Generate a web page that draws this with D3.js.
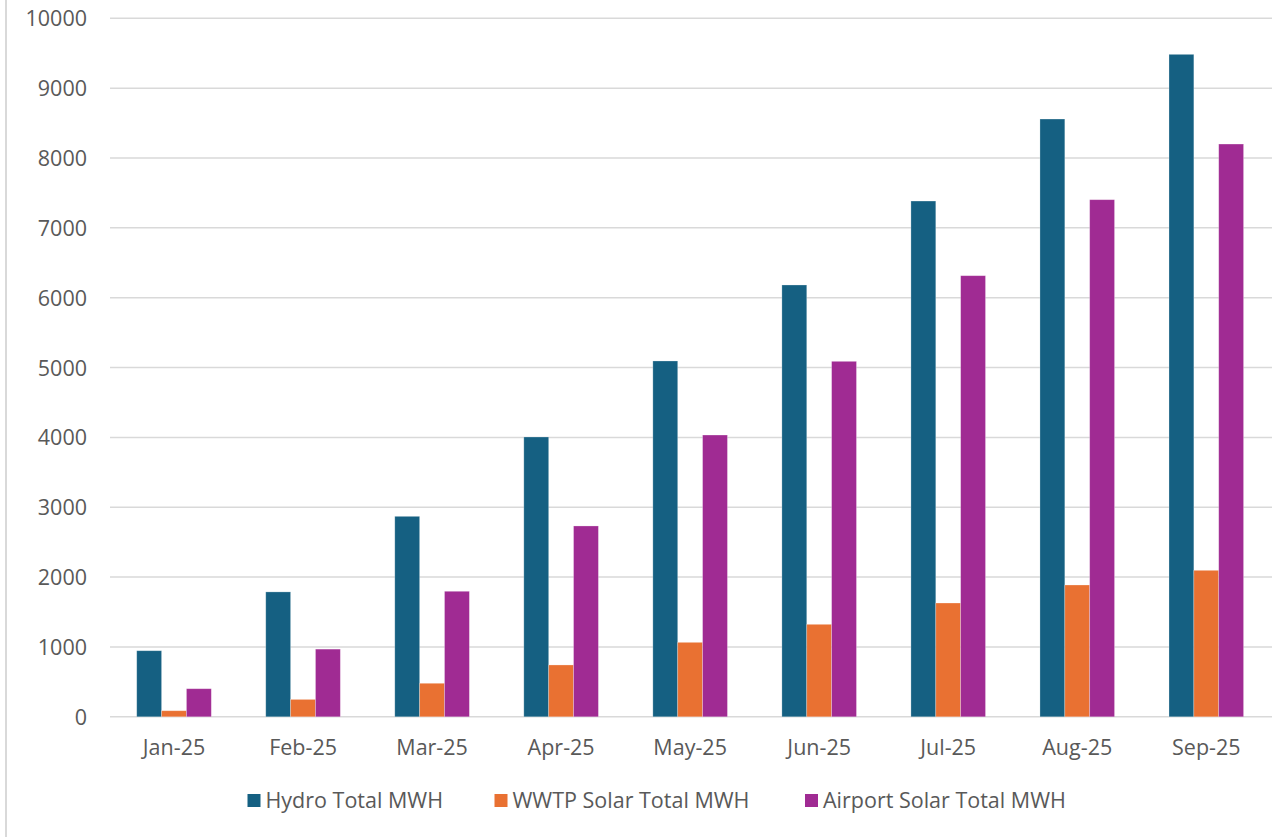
<!DOCTYPE html>
<html>
<head>
<meta charset="utf-8">
<script src="https://cdn.jsdelivr.net/npm/d3@7"></script>
<style>
  html, body { margin: 0; padding: 0; background: #fff; }
  svg { display: block; }
  text { font-family: "Open Sans", "Liberation Sans", sans-serif; fill: #595959; }
</style>
</head>
<body>
<svg id="chart" width="1272" height="837"></svg>
<script>
const months = ["Jan-25","Feb-25","Mar-25","Apr-25","May-25","Jun-25","Jul-25","Aug-25","Sep-25"];
const seriesNames = ["Hydro Total MWH","WWTP Solar Total MWH","Airport Solar Total MWH"];
const hydro   = [946, 1788, 2870, 4006, 5094, 6182, 7384, 8558, 9484];
const wwtp    = [87, 249, 480, 742, 1066, 1324, 1629, 1887, 2097];
const airport = [402, 969, 1797, 2732, 4034, 5089, 6315, 7403, 8200];
const yTicks  = [0,1000,2000,3000,4000,5000,6000,7000,8000,9000,10000];
const colors  = ["#156082", "#E97132", "#A02B93"];

const seriesValues = [hydro, wwtp, airport];
const svg = d3.select("#chart");

// outer border (left edge visible)
svg.append("line").attr("x1", 6).attr("x2", 6).attr("y1", 0).attr("y2", 837)
  .attr("stroke", "#d9d9d9").attr("stroke-width", 2);

const y = d3.scaleLinear().domain([0, 10000]).range([716.8, 18.3]);
const x0 = d3.scaleBand().domain(months).range([109.5, 1270.8])
  .paddingInner(0.422).paddingOuter(0.211);
const x1 = d3.scaleBand().domain(seriesNames).range([0, x0.bandwidth()]).padding(0);

// gridlines
svg.append("g").selectAll("line").data(yTicks).join("line")
  .attr("x1", 110).attr("x2", 1272)
  .attr("y1", d => y(d)).attr("y2", d => y(d))
  .attr("stroke", "#d9d9d9").attr("stroke-width", 1.5);

const yAxis = d3.axisLeft(y).tickValues(yTicks).tickFormat(d3.format("d")).tickSize(0).tickPadding(0);
const gy = svg.append("g").attr("transform", "translate(87,0)").call(yAxis);
gy.select(".domain").remove();
gy.selectAll("text").attr("font-size", 21.5).attr("fill", "#595959")
  .attr("font-family", '"Open Sans", sans-serif').attr("x", 0).attr("dy", "0.35em");

// bars
const groups = svg.append("g").selectAll("g").data(months).join("g")
  .attr("transform", d => `translate(${x0(d)},0)`);
groups.selectAll("rect")
  .data((m, i) => seriesNames.map((s, j) => ({ s, j, v: seriesValues[j][i] })))
  .join("rect")
  .attr("x", d => x1(d.s))
  .attr("width", x1.bandwidth())
  .attr("y", d => y(d.v))
  .attr("height", d => y(0) - y(d.v))
  .attr("fill", d => colors[d.j])
  .attr("stroke", "rgba(255,255,255,0.35)").attr("stroke-width", 0.75);

// x axis labels
const xAxis = d3.axisBottom(x0).tickSize(0).tickPadding(0);
const gx = svg.append("g").attr("transform", `translate(0,${y(0)})`).call(xAxis);
gx.select(".domain").remove();
gx.selectAll("text").attr("font-size", 21.5).attr("fill", "#595959")
  .attr("font-family", '"Open Sans", sans-serif').attr("y", 38).attr("dy", 0);

// legend
const legendX = [247.5, 494.5, 805];
const lg = svg.append("g").selectAll("g").data(seriesNames).join("g")
  .attr("transform", (d, i) => `translate(${legendX[i]},0)`);
lg.append("rect").attr("x", 0).attr("y", 794).attr("width", 13).attr("height", 13)
  .attr("fill", (d, i) => colors[i]);
lg.append("text").attr("x", 18).attr("y", 808).attr("font-size", 21.5).text(d => d);
</script>
</body>
</html>
